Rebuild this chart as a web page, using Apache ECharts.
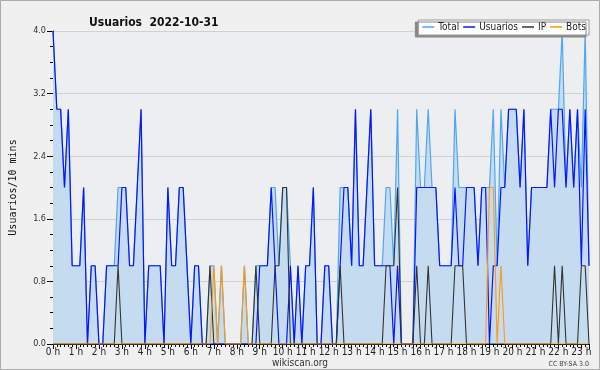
<!DOCTYPE html>
<html>
<head>
<meta charset="utf-8">
<script src="https://cdn.jsdelivr.net/npm/echarts@6/dist/echarts.min.js"></script>
<style>
html,body{margin:0;padding:0;background:#f0f0f0;}
#c{width:600px;height:370px;}
</style>
</head>
<body>
<div id="c"></div>
<script>
// 10-minute slots from 00:00 to 23:20 (141 points)
var hourLabels = ['0 h','1 h','2 h','3 h','4 h','5 h','6 h','7 h','8 h','9 h','10 h','11 h','12 h','13 h','14 h','15 h','16 h','17 h','18 h','19 h','20 h','21 h','22 h','23 h'];
var yTicks = [0, 0.8, 1.6, 2.4, 3.2, 4.0];

var total = [
4,3,3,2,3,1,1,1,2,0, 1,1,0,0,1,1,1,2,2,2, 1,1,2,3,0,1,1,1,1,0, 2,1,1,2,2,1,0,1,1,0,
0,1,1,0,1,0,0,0,0,0, 1,0,0,1,1,1,1,2,2,1, 2,2,1,0,1,0,1,1,2,0, 0,1,1,0,0,2,2,2,1,3,
1,1,2,3,1,1,1,2,2,1, 3,0,0,0,0,3,2,2,3,2, 2,1,1,1,1,3,2,2,2,2, 2,1,2,2,2,3,1,3,2,3,
3,3,2,3,1,2,2,2,2,2, 3,3,3,4,2,3,2,3,2,4, 1];
var usuarios = [
4,3,3,2,3,1,1,1,2,0, 1,1,0,0,1,1,1,1,2,2, 1,1,2,3,0,1,1,1,1,0, 2,1,1,2,2,1,0,1,1,0,
0,0,0,0,0,0,0,0,0,0, 0,0,0,0,1,1,1,2,1,0, 0,0,1,0,1,0,1,1,2,0, 0,1,1,0,0,1,2,2,1,3,
1,1,2,3,1,1,1,1,1,0, 1,0,0,0,0,2,2,2,2,2, 2,1,1,1,1,2,1,1,2,2, 2,1,2,2,0,1,1,2,2,3,
3,3,2,3,1,2,2,2,2,2, 3,2,3,3,2,3,2,3,1,3, 1];
var ip = [
0,0,0,0,0,0,0,0,0,0, 0,0,0,0,0,0,0,1,0,0, 0,0,0,0,0,0,0,0,0,0, 0,0,0,0,0,0,0,0,0,0,
0,1,0,0,0,0,0,0,0,0, 0,0,0,1,0,0,0,0,1,1, 2,2,0,0,0,0,0,0,0,0, 0,0,0,0,0,1,0,0,0,0,
0,0,0,0,0,0,0,1,1,1, 2,0,0,0,0,1,0,0,1,0, 0,0,0,0,0,1,1,1,0,0, 0,0,0,0,0,0,0,0,0,0,
0,0,0,0,0,0,0,0,0,0, 0,1,0,1,0,0,0,0,1,1, 0];
var bots = [
0,0,0,0,0,0,0,0,0,0, 0,0,0,0,0,0,0,0,0,0, 0,0,0,0,0,0,0,0,0,0, 0,0,0,0,0,0,0,0,0,0,
0,0,1,0,1,0,0,0,0,0, 1,0,0,0,0,0,0,0,0,0, 0,0,0,0,0,0,0,0,0,0, 0,0,0,0,0,0,0,0,0,0,
0,0,0,0,0,0,0,0,0,0, 0,0,0,0,0,0,0,0,0,0, 0,0,0,0,0,0,0,0,0,0, 0,0,0,0,2,2,0,1,0,0,
0,0,0,0,0,0,0,0,0,0, 0,0,0,0,0,0,0,0,0,0, 0];

function pairs(arr){ return arr.map(function(v,i){ return [i, v]; }); }

var FONT = '"DejaVu Sans Condensed", "DejaVu Sans", sans-serif';
var chart = echarts.init(document.getElementById('c'), null, {renderer:'canvas'});
chart.setOption({
  animation:false,
  backgroundColor:'#f0f0f0',
  title:{
    text:'Usuarios  2022-10-31', left:84, top:12,
    textStyle:{fontFamily:FONT, fontWeight:'bold', fontSize:12, color:'#111'}
  },
  legend:{
    right:11, top:20, width:400, orient:'horizontal',
    padding:[2,3,3,4], itemGap:4, itemWidth:12, itemHeight:1.5,
    icon:'rect',
    backgroundColor:'#ffffff', borderColor:'#999', borderWidth:1,
    shadowColor:'#888', shadowOffsetX:-3, shadowOffsetY:2, shadowBlur:0,
    textStyle:{fontFamily:FONT, fontSize:10, color:'#222', padding:[0,0,0,-1]},
    data:['Total','Usuarios','IP','Bots']
  },
  grid:{left:46, right:11, top:31, bottom:26, show:true, backgroundColor:'#eceef0', borderWidth:0},
  xAxis:{
    type:'value', min:0, max:140, interval:6,
    axisLine:{show:true, onZero:false, lineStyle:{color:'#000', width:1}},
    axisTick:{show:true, length:5, lineStyle:{color:'#000'}},
    minorTick:{show:true, splitNumber:6, length:3, lineStyle:{color:'#000'}},
    splitLine:{show:false},
    axisLabel:{
      margin:3, fontFamily:FONT, fontSize:10, color:'#222', showMaxLabel:false,
      formatter:function(v){ return (v % 6 === 0 && hourLabels[v/6]) ? hourLabels[v/6] : ''; }
    }
  },
  yAxis:{
    type:'value', min:yTicks[0], max:yTicks[yTicks.length-1], interval:0.8,
    name:'Usuarios/10 mins', nameLocation:'middle', nameGap:35, nameRotate:90,
    nameTextStyle:{fontFamily:'"DejaVu Sans Mono", monospace', fontSize:10, color:'#111'},
    axisLine:{show:true, lineStyle:{color:'#000', width:1}},
    axisTick:{show:true, length:6, lineStyle:{color:'#000'}},
    minorTick:{show:true, splitNumber:4, length:3, lineStyle:{color:'#000'}},
    splitLine:{show:true, lineStyle:{color:'#cfd1d3', width:1}},
    axisLabel:{margin:7, fontFamily:FONT, fontSize:9, color:'#333',
      formatter:function(v){ return v.toFixed(1); }}
  },
  series:[
    {name:'Total', type:'line', data:pairs(total), symbol:'none', z:1,
     itemStyle:{color:'#4ea6f5'},
     lineStyle:{color:'#4ea6f5', width:1.2},
     areaStyle:{color:'#c5dcf0', opacity:1}},
    {name:'Usuarios', type:'line', data:pairs(usuarios), symbol:'none', z:2,
     itemStyle:{color:'#0a14ff'}, lineStyle:{color:'#0a14ff', width:1.2}},
    {name:'IP', type:'line', data:pairs(ip), symbol:'none', z:3,
     itemStyle:{color:'#333333'}, lineStyle:{color:'#333333', width:1.1}},
    {name:'Bots', type:'line', data:pairs(bots), symbol:'none', z:4,
     itemStyle:{color:'#ff9a10'}, lineStyle:{color:'#ff9a10', width:1.1}}
  ],
  graphic:[
    {type:'text', left:'center', top:358, style:{text:'wikiscan.org', font:'10px '+FONT, fill:'#333'}},
    {type:'text', right:11, top:361, style:{text:'CC BY-SA 3.0', font:'7px '+FONT, fill:'#444'}},
    {type:'rect', shape:{x:0.5, y:0.5, width:599, height:369}, style:{fill:null, stroke:'#aaa', lineWidth:1}, silent:true}
  ]
});
</script>
</body>
</html>
